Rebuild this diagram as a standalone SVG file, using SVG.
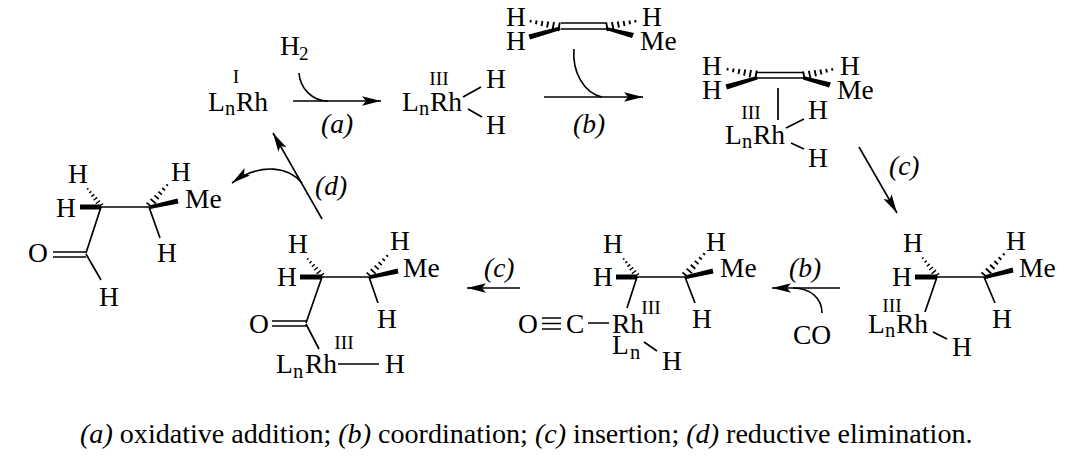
<svg xmlns="http://www.w3.org/2000/svg" width="1076" height="475" viewBox="0 0 1076 475">
<style>
text{font-family:"Liberation Serif","Times New Roman",serif;fill:#000}
.t{font-size:27.5px}
.s{font-size:20.5px}
.o{font-size:19.5px;text-anchor:middle}
.i{font-size:27.5px;font-style:italic}
.c{font-size:28.1px}
.b,.a{stroke:#000;stroke-width:1.7;fill:none;stroke-linecap:butt}
.a{stroke-width:1.6}
.w{fill:#000;stroke:none}
.k{stroke:#000;stroke-width:5;fill:none}
</style>
<defs>
<marker id="h" markerUnits="userSpaceOnUse" markerWidth="22" markerHeight="12" refX="19" refY="5" orient="auto"><path d="M0,0.3L19,5L0,9.7L4,5Z" fill="#000"/></marker>
<g id="hash"><path d="M1,-4.2V4.2M6.5,-3.6V3.6M12,-3V3M17.5,-2.4V2.4M23,-1.8V1.8M28.5,-1.2V1.2" stroke="#000" stroke-width="1.8" fill="none"/></g>
</defs>
<g id="connectors">
<path class="a" d="M293,101H381" marker-end="url(#h)"/>
<path class="a" d="M299,73C300,88 312,101 328,101"/>
<path class="a" d="M544,97H643" marker-end="url(#h)"/>
<path class="a" d="M574,49C572,72 584,93 602,97"/>
<path class="a" d="M859,147L897,213" marker-end="url(#h)"/>
<path class="a" d="M840,288H772" marker-end="url(#h)"/>
<path class="a" d="M822,313C822,298 810,288 793,288"/>
<path class="a" d="M520,288H467" marker-end="url(#h)"/>
<path class="a" d="M322,219L273,133" marker-end="url(#h)"/>
<path class="a" d="M302,183C290,168 262,161 232,183" marker-end="url(#h)"/>
</g>
<g id="reagent-h2"><text class="t" x="280" y="55">H</text><text class="s" x="299" y="60" style="font-size:19px">2</text></g>
<g id="rh-i"><text class="o" x="236" y="83">I</text><text class="t" x="208" y="111">L</text><text class="s" x="225" y="115">n</text><text class="t" x="236" y="111">Rh</text></g>
<g id="rh-iii-dihydride"><text class="o" x="439" y="85">III</text><text class="t" x="402" y="111">L</text><text class="s" x="419" y="115">n</text><text class="t" x="430" y="111">Rh</text><path class="b" d="M463,97L481,87M468,109L482,117"/><text class="t" x="486" y="88">H</text><text class="t" x="486" y="134">H</text></g>
<g id="propene"><text class="t" x="506" y="26">H</text><text class="t" x="506" y="50">H</text><text class="t" x="642" y="26">H</text><text class="t" x="640" y="50">Me</text><path class="b" d="M561,23H606M561,29H606"/><use href="#hash" transform="translate(560,27) rotate(191) scale(1.05)"/><use href="#hash" transform="translate(606,27) rotate(-11) scale(1.05)"/><polygon class="w" points="560,26.5 560.5,30 530,39.5 528.5,34.5"/><polygon class="w" points="606,27 606,30 632,38 634,33"/></g>
<g id="complex"><text class="t" x="702" y="75">H</text><text class="t" x="702" y="99">H</text><text class="t" x="840" y="75">H</text><text class="t" x="837" y="99">Me</text><path class="b" d="M757,72.5H803M757,78H803M778,88V120"/><use href="#hash" transform="translate(757,75) rotate(191) scale(1.05)"/><use href="#hash" transform="translate(803,76) rotate(-12.7) scale(1.05)"/><polygon class="w" points="757,76 757.5,79.5 727,89.5 725.5,84.5"/><polygon class="w" points="803,76 803,79.5 829,87.5 831,82.5"/><text class="o" x="751" y="119">III</text><text class="t" x="725" y="144">L</text><text class="s" x="742" y="148">n</text><text class="t" x="753" y="144">Rh</text><path class="b" d="M786,128L804,119M791,143L804,149"/><text class="t" x="808" y="119">H</text><text class="t" x="808" y="167">H</text></g>
<g id="alkyl"><text class="t" x="903" y="252">H</text><text class="t" x="892" y="286">H</text><path class="k" d="M915,277H937"/><use href="#hash" transform="translate(937,276) rotate(-128.3) scale(0.8)"/><path class="b" d="M937,277H984M984,277L995,303M937,277L925,312M933,332L947,339"/><use href="#hash" transform="translate(984,276) rotate(-47.6) scale(1.03)"/><polygon class="w" points="984,275.5 985,279 1013.5,272.5 1012.5,267.5"/><text class="t" x="1019" y="277">Me</text><text class="t" x="1006" y="250">H</text><text class="t" x="992" y="328">H</text><text class="o" x="892" y="312">III</text><text class="t" x="868" y="333">L</text><text class="s" x="885" y="337">n</text><text class="t" x="896" y="333">Rh</text><text class="t" x="952" y="356">H</text></g>
<g id="co-complex"><text class="t" x="603" y="253">H</text><text class="t" x="593" y="286">H</text><path class="k" d="M616,277H637"/><use href="#hash" transform="translate(637,276) rotate(-127.9) scale(0.76)"/><path class="b" d="M637,277H685M685,277L695,303M637,277L627,308M542,318H561M542,323.5H561M542,329H561M588,323H609M644,342L657,351"/><use href="#hash" transform="translate(685,276) rotate(-49) scale(1.02)"/><polygon class="w" points="685,275.5 686,279 713.5,273.5 712.5,268.5"/><text class="t" x="720" y="277">Me</text><text class="t" x="706" y="251">H</text><text class="t" x="692" y="328">H</text><text class="o" x="651" y="314">III</text><text class="t" x="612" y="333">Rh</text><text class="t" x="518" y="333">O</text><text class="t" x="566" y="333">C</text><text class="t" x="612" y="354">L</text><text class="s" x="630" y="359">n</text><text class="t" x="662" y="370">H</text></g>
<g id="acyl"><text class="t" x="288" y="253">H</text><text class="t" x="277" y="286">H</text><path class="k" d="M300,277H322"/><use href="#hash" transform="translate(322,276) rotate(-129.8) scale(0.78)"/><path class="b" d="M322,277H369M369,277L378,303M322,277L306,323M272,321H306M272,326H306M306,324L319,349M338,364H379"/><use href="#hash" transform="translate(369,276) rotate(-47.9) scale(0.95)"/><polygon class="w" points="369,275.5 370,279 398.5,273.5 397.5,268.5"/><text class="t" x="403" y="277">Me</text><text class="t" x="390" y="250">H</text><text class="t" x="377" y="328">H</text><text class="t" x="249" y="333">O</text><text class="o" x="344" y="349">III</text><text class="t" x="276" y="373">L</text><text class="s" x="293" y="378">n</text><text class="t" x="305" y="373">Rh</text><text class="t" x="385" y="373">H</text></g>
<g id="aldehyde"><text class="t" x="68" y="183">H</text><text class="t" x="56" y="217">H</text><path class="k" d="M80,207H101"/><use href="#hash" transform="translate(101,206) rotate(-127.9) scale(0.76)"/><path class="b" d="M101,207H149M149,207L160,238M101,207L86,253M53,252H86M53,257H86M86,254L101,280"/><use href="#hash" transform="translate(149,206) rotate(-49) scale(0.97)"/><polygon class="w" points="149,205.5 150,209 178.5,203.5 177.5,198.5"/><text class="t" x="185" y="208">Me</text><text class="t" x="171" y="181">H</text><text class="t" x="157" y="262">H</text><text class="t" x="28" y="262">O</text><text class="t" x="99" y="306">H</text></g>
<g id="step-labels"><text class="i" x="321" y="133">(a)</text><text class="i" x="573" y="133">(b)</text><text class="i" x="889" y="175">(c)</text><text class="i" x="789" y="277">(b)</text><text class="i" x="484" y="277">(c)</text><text class="i" x="315" y="195">(d)</text><text class="t" x="793" y="344">CO</text></g>
<text class="c" x="80" y="443"><tspan font-style="italic">(a)</tspan> oxidative addition; <tspan font-style="italic">(b)</tspan> coordination; <tspan font-style="italic">(c)</tspan> insertion; <tspan font-style="italic">(d)</tspan> reductive elimination.</text>
</svg>
